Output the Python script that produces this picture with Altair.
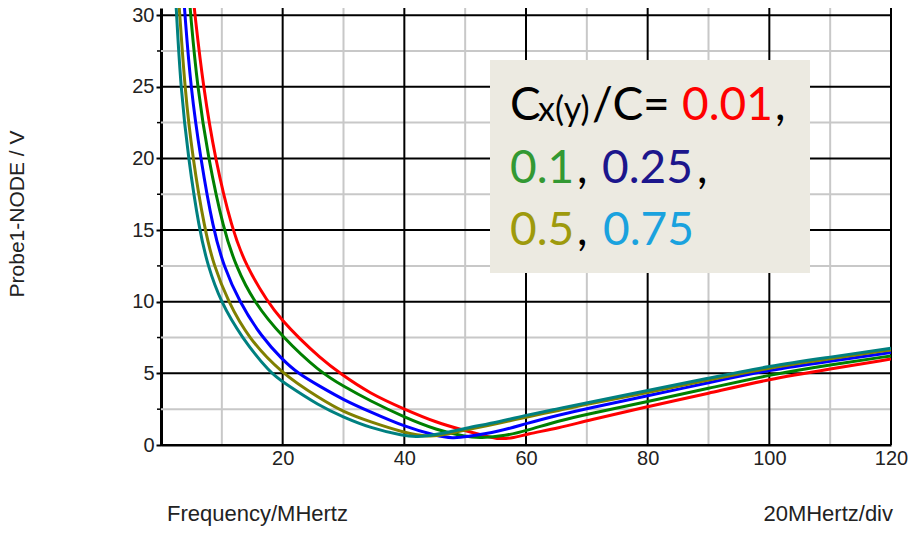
import altair as alt
import pandas as pd

# ---------------- data ----------------
ratio_names = ["0.01", "0.1", "0.25", "0.5", "0.75"]
line_colors = ["#FF0000", "#008000", "#0000FF", "#808000", "#008080"]
legend_colors = ["#FF0000", "#339933", "#1C168C", "#9E9A0C", "#1AA2DE"]

freq_001 = [5.1, 5.58, 6.95, 8.87, 11.7, 14.0, 17.5, 20, 22.6, 26.1, 29.4, 34.3, 40, 45.3, 50, 53.5, 55.7, 58, 60, 65.5, 70, 80, 90, 100, 110, 120]
volt_001 = [32, 30, 25, 20, 15, 12.5, 10, 8.65, 7.5, 6.1, 5.0, 3.6, 2.5, 1.56, 1.0, 0.6, 0.4, 0.5, 0.75, 1.2, 1.7, 2.68, 3.6, 4.6, 5.3, 6.0]

freq_01 = [4.5, 4.87, 5.97, 7.77, 10.3, 12.3, 15.2, 20, 26.1, 30, 34.3, 40, 45.3, 50, 52.5, 56.7, 60, 65.5, 70, 80, 90, 100, 110, 120]
volt_01 = [32, 30, 25, 20, 15, 12.5, 10, 7.5, 5.1, 4.1, 3.1, 1.94, 1.05, 0.58, 0.47, 0.65, 1.0, 1.7, 2.15, 3.03, 3.95, 4.9, 5.6, 6.22]

freq_025 = [3.6, 3.94, 4.87, 6.5, 8.6, 10.3, 12.86, 16.6, 20, 22.5, 26.1, 30, 34.3, 40, 45.3, 48, 50, 55.7, 60, 65.5, 70, 80, 90, 100, 110, 120]
volt_025 = [32, 30, 25, 20, 15, 12.5, 10, 7.5, 5.95, 5.0, 4.1, 3.15, 2.33, 1.28, 0.63, 0.47, 0.55, 0.95, 1.5, 2.1, 2.55, 3.43, 4.35, 5.24, 5.85, 6.45]

freq_05 = [2.75, 3.1, 3.89, 5.2, 7.2, 8.7, 11.05, 14.3, 19.8, 26.1, 30, 34.3, 40, 44.2, 47, 50, 55.7, 60, 65.5, 70, 80, 90, 100, 110, 120]
volt_05 = [32, 30, 25, 20, 15, 12.5, 10, 7.5, 5.0, 3.26, 2.3, 1.63, 0.85, 0.55, 0.75, 1.05, 1.52, 1.95, 2.42, 2.85, 3.66, 4.53, 5.4, 6.02, 6.64]

freq_075 = [2.3, 2.57, 3.23, 4.49, 6.3, 7.7, 9.8, 13.25, 18.0, 20, 26.1, 30, 34.3, 40, 42, 45.3, 50, 55.7, 60, 65.5, 70, 80, 90, 100, 110, 120]
volt_075 = [32, 30, 25, 20, 15, 12.5, 10, 7.5, 5.0, 4.4, 2.7, 1.95, 1.2, 0.63, 0.55, 0.72, 1.17, 1.63, 2.08, 2.55, 2.95, 3.8, 4.66, 5.52, 6.13, 6.76]

x_major = [20, 40, 60, 80, 100, 120]
x_minor = [10, 30, 50, 70, 90, 110]
y_major = [0, 5, 10, 15, 20, 25, 30]
y_minor = [2.5, 7.5, 12.5, 17.5, 22.5, 27.5]

y_title = "Probe1-NODE / V"
x_title = "Frequency/MHertz"
x_div = "20MHertz/div"
legend_head = "C"
legend_sub = "x(y)"
legend_tail = "/C="

# ---------------- chart ----------------
xs = alt.Scale(domain=[0, 120], nice=False, zero=False)
ys = alt.Scale(domain=[0, 30.5], nice=False, zero=False)

AXFONT = "Liberation Sans"
TXT = "#222222"
xaxis = alt.Axis(values=x_major, title=None, grid=False, ticks=False, domainColor="black",
                 domainWidth=2, labelFont=AXFONT, labelFontSize=20, labelColor=TXT,
                 labelPadding=3, labelFlush=False)
yaxis = alt.Axis(values=y_major, title=None, grid=False, tickSize=5, tickColor="black", tickWidth=2,
                 domainColor="black", domainWidth=3, labelFont=AXFONT, labelFontSize=20,
                 labelColor=TXT, labelPadding=2)


def X():
    return alt.X("freq:Q", scale=xs, axis=xaxis)


def Y():
    return alt.Y("volt:Q", scale=ys, axis=yaxis)


layers = []
layers.append(alt.Chart(pd.DataFrame({"freq": x_minor})).mark_rule(color="#C8C8C8", strokeWidth=2).encode(x=X()))
layers.append(alt.Chart(pd.DataFrame({"volt": y_minor})).mark_rule(color="#C8C8C8", strokeWidth=2).encode(y=Y()))
layers.append(alt.Chart(pd.DataFrame({"freq": x_major})).mark_rule(color="#000000", strokeWidth=2).encode(x=X()))
layers.append(alt.Chart(pd.DataFrame({"volt": y_major})).mark_rule(color="#000000", strokeWidth=2).encode(y=Y()))
# minor ticks on the y axis
layers.append(alt.Chart(pd.DataFrame({"volt": y_minor})).mark_rule(color="#000000", strokeWidth=1.5)
              .encode(y=Y(), x=alt.value(-4), x2=alt.value(0)))

series = [(freq_001, volt_001), (freq_01, volt_01), (freq_025, volt_025), (freq_05, volt_05), (freq_075, volt_075)]
for (f, v), name, col in zip(series, ratio_names, line_colors):
    df = pd.DataFrame({"freq": f, "volt": v, "ratio": name})
    layers.append(
        alt.Chart(df).mark_line(color=col, strokeWidth=3, clip=True, interpolate="basis")
        .encode(x=X(), y=Y())
    )


def label(text, x, y, size, color, font="Lato", align="left", baseline="alphabetic", angle=None):
    mk = dict(align=align, baseline=baseline, font=font, fontSize=size, color=color)
    if angle is not None:
        mk["angle"] = angle
    return alt.Chart(pd.DataFrame({"t": [text]})).mark_text(**mk).encode(
        text="t:N", x=alt.value(x), y=alt.value(y))


# legend box
layers.append(
    alt.Chart(pd.DataFrame({"a": [1]})).mark_rect(color="#ECEAE1")
    .encode(x=alt.value(329), x2=alt.value(649), y=alt.value(52), y2=alt.value(265))
)
LS = 46
layers += [
    label(legend_head, 349, 112, LS, "black"),
    label(legend_sub, 377, 113, 34, "black"),
    label(legend_tail, 431, 112, LS, "black"),
    label(ratio_names[0], 521, 112, LS, legend_colors[0]),
    label(",", 614, 112, LS, "black"),
    label(ratio_names[1], 349, 175, LS, legend_colors[1]),
    label(",", 416, 175, LS, "black"),
    label(ratio_names[2], 441, 175, LS, legend_colors[2]),
    label(",", 536, 175, LS, "black"),
    label(ratio_names[3], 349, 237, LS, legend_colors[3]),
    label(",", 416, 237, LS, "black"),
    label(ratio_names[4], 442, 237, LS, legend_colors[4]),
]

# axis titles
layers += [
    label(y_title, -143, 206, 21, TXT, font=AXFONT, align="center", baseline="middle", angle=270),
    label(x_title, 6, 506, 22, TXT, font=AXFONT, align="left", baseline="middle"),
    label(x_div, 732, 506, 22, TXT, font=AXFONT, align="right", baseline="middle"),
]

chart = alt.layer(*layers).properties(
    width=730, height=437,
    padding={"left": 161, "top": 8, "right": 31, "bottom": 89},
    autosize=alt.AutoSizeParams(type="none"),
    background="white",
).configure_view(stroke=None)

chart.save("out.html", embed_options={"renderer": "svg", "actions": False})
